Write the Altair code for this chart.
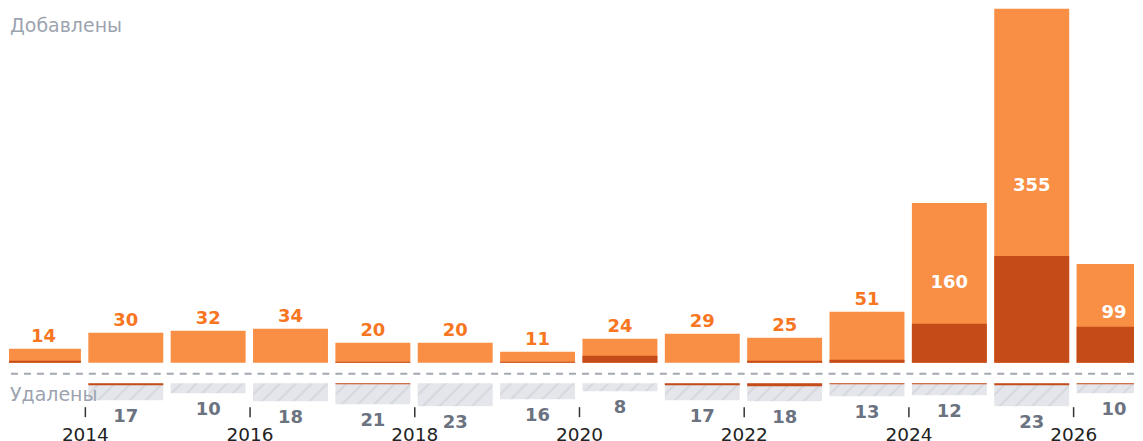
import altair as alt
import pandas as pd

# ---- data ----
years = [2013, 2014, 2015, 2016, 2017, 2018, 2019, 2020, 2021, 2022, 2023, 2024, 2025, 2026]
added = [14, 30, 32, 34, 20, 20, 11, 24, 29, 25, 51, 160, 355, 99]
added_dark = [2, 0, 0, 0, 1, 0, 1, 7, 0, 2, 3, 39, 107, 36]
deleted = [0, 17, 10, 18, 21, 23, 16, 8, 17, 18, 13, 12, 23, 10]
deleted_dark = [0, 2, 0, 0, 1, 0, 0, 0, 2, 3, 1, 1, 2, 1]
tick_years = [2014, 2016, 2018, 2020, 2022, 2024, 2026]
label_added = "Добавлены"
label_deleted = "Удалены"

# ---- style ----
LIGHT = "#f98f45"
DARK = "#c54b18"
ORANGE_TXT = "#f7761f"
GRAY_TXT = "#6b7280"
MUTED = "#9ca3af"
FONT = "DejaVu Sans"
GAP = -20.5          # where deleted bars start (below zero)
DASH_Y = -11

df = pd.DataFrame({
    "year": years,
    "added": added,
    "added_dark": added_dark,
    "deleted": deleted,
    "deleted_dark": deleted_dark,
})

base = alt.Chart(df).transform_calculate(
    x0="datum.year + 0.042",
    x1="datum.year + 0.952",
    xm="datum.year + 0.497",
    zero="0",
    low0=str(GAP),
    low1=f"{GAP} - datum.deleted",
    lowd=f"{GAP} - datum.deleted_dark",
    half="datum.added / 2",
)

xscale = alt.Scale(domain=[2013.0788, 2026.739], nice=False, zero=False)
yscale = alt.Scale(domain=[-44, 355], nice=False, zero=False)

X = alt.X("x0:Q", scale=xscale,
          axis=alt.Axis(values=tick_years, format="d", grid=False, domain=False,
                        tickSize=10, tickColor="#333333", tickWidth=1.5,
                        labelFontSize=18.5, labelColor="#222222", labelPadding=9,
                        labelFont=FONT, labelFlush=False, labelOverlap=False,
                        title=None))
Y = lambda f: alt.Y(f, scale=yscale, axis=None)

upper = base.mark_rect(color=LIGHT, clip=True).encode(
    x=X, x2="x1:Q", y=Y("zero:Q"), y2="added:Q")
upper_dark = base.transform_filter("datum.added_dark > 0").mark_rect(color=DARK, clip=True).encode(
    x=X, x2="x1:Q", y=Y("zero:Q"), y2="added_dark:Q")

# striped light grey fill (diagonal hatch) built as a repeating linear gradient
c0, c1 = "#e4e6eb", "#d3d6dc"
stops = []
N = 5
for i in range(N):
    o = i / N
    p = 1 / N
    stops += [
        f"{{offset:{o:.4f},color:'{c0}'}}",
        f"{{offset:{o + p*0.55:.4f},color:'{c0}'}}",
        f"{{offset:{o + p*0.72:.4f},color:'{c1}'}}",
        f"{{offset:{o + p*0.88:.4f},color:'{c0}'}}",
    ]
stops.append(f"{{offset:1,color:'{c0}'}}")
grad_expr = ("{gradient:'linear',x1:0,y1:0,x2:1,y2:datum.deleted/75,stops:["
             + ",".join(stops) + "]}")

lower = base.transform_filter("datum.deleted > 0").transform_calculate(
    grad=grad_expr
).mark_rect(clip=True).encode(
    x=X, x2="x1:Q", y=Y("low0:Q"), y2="low1:Q",
    fill=alt.Fill("grad:N", scale=None, legend=None))
lower_dark = base.transform_filter("datum.deleted_dark > 0").mark_rect(color=DARK, clip=True).encode(
    x=X, x2="x1:Q", y=Y("low0:Q"), y2="lowd:Q")

dash = alt.Chart(pd.DataFrame({"v": [DASH_Y]})).mark_rule(
    color="#a3a8b2", strokeWidth=2, strokeDash=[7, 6]).encode(y=Y("v:Q"))

lab_out = base.transform_filter("datum.added <= 80").mark_text(
    font=FONT, fontSize=18, fontWeight="bold", color=ORANGE_TXT,
    baseline="alphabetic", dy=-7).encode(
    x=alt.X("xm:Q", scale=xscale), y=Y("added:Q"), text="added:Q")
lab_in = base.transform_filter("datum.added > 80").mark_text(
    font=FONT, fontSize=18, fontWeight="bold", color="white",
    baseline="middle").encode(
    x=alt.X("xm:Q", scale=xscale), y=Y("half:Q"), text="added:Q")
lab_low = base.transform_filter("datum.deleted > 0").mark_text(
    font=FONT, fontSize=18, fontWeight="bold", color=GRAY_TXT,
    baseline="middle", dy=17).encode(
    x=alt.X("xm:Q", scale=xscale), y=Y("low1:Q"), text="deleted:Q")

t_add = alt.Chart(pd.DataFrame({"t": [label_added]})).mark_text(
    font=FONT, fontSize=19, color=MUTED, align="left", baseline="alphabetic").encode(
    x=alt.value(1), y=alt.value(24), text="t:N")
t_del = alt.Chart(pd.DataFrame({"t": [label_deleted]})).mark_text(
    font=FONT, fontSize=19, color=MUTED, align="left", baseline="alphabetic").encode(
    x=alt.value(1), y=alt.value(393), text="t:N")

chart = alt.layer(
    upper, upper_dark, lower, lower_dark, dash, lab_out, lab_in, lab_low, t_add, t_del
).properties(
    width=1127, height=399, padding=0
).configure_view(stroke=None)

chart.save("out.html", embed_options={"renderer": "svg", "actions": False})
